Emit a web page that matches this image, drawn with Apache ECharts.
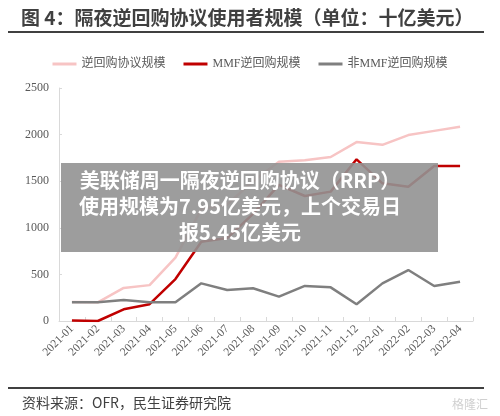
<!DOCTYPE html>
<html>
<head>
<meta charset="utf-8">
<script src="https://cdn.jsdelivr.net/npm/echarts@6/dist/echarts.min.js"></script>
<style>
  html, body { margin: 0; padding: 0; background: #fff; }
  #chart { width: 500px; height: 416px; }
</style>
</head>
<body>
<div id="chart"></div>
<script>
// 月份
const months = ['2021-01', '2021-02', '2021-03', '2021-04', '2021-05', '2021-06', '2021-07', '2021-08',
  '2021-09', '2021-10', '2021-11', '2021-12', '2022-01', '2022-02', '2022-03', '2022-04'];
// 十亿美元
const totalRrp = [205, 200, 355, 385, 680, 1200, 1250, 1500, 1710, 1725, 1760, 1920, 1890, 1995, 2040, 2085];
const mmfRrp = [5, 0, 125, 180, 450, 851, 890, 1150, 1460, 1341, 1388, 1735, 1477, 1441, 1663, 1663];
const nonMmfRrp = [200, 200, 225, 200, 200, 404, 333, 351, 261, 376, 361, 179, 404, 547, 376, 422];
const seriesNames = ['逆回购协议规模', 'MMF逆回购规模', '非MMF逆回购规模'];
const yTicks = [0, 500, 1000, 1500, 2000, 2500];

const bannerLines = ['美联储周一隔夜逆回购协议（RRP）', '使用规模为7.95亿美元，上个交易日', '报5.45亿美元'];

const serif = '"Liberation Serif", "Noto Sans CJK SC", serif';
const sans = '"Noto Sans CJK SC", "Noto Sans", sans-serif';

const myChart = echarts.init(document.getElementById('chart'));

const option = {
  animation: false,
  title: [{
    text: '图 4：隔夜逆回购协议使用者规模（单位：十亿美元）',
    left: 16,
    top: 3,
    textStyle: { color: '#404040', fontSize: 19, fontWeight: 'bold', fontFamily: sans }
  }, {
    text: '资料来源：OFR，民生证券研究院',
    left: 17,
    top: 391,
    textStyle: { color: '#404040', fontSize: 14, fontWeight: 'normal', fontFamily: sans }
  }],
  legend: {
    top: 53,
    left: 'center',
    itemWidth: 24,
    itemHeight: 3,
    itemGap: 18,
    icon: 'rect',
    data: seriesNames,
    textStyle: { color: '#595959', fontSize: 12, fontFamily: serif }
  },
  grid: { left: 59, right: 27, top: 88, bottom: 95 },
  xAxis: {
    type: 'category',
    data: months,
    boundaryGap: true,
    axisLine: { lineStyle: { color: '#d9d9d9', width: 1 } },
    axisTick: { show: true, inside: true, length: 4, lineStyle: { color: '#d9d9d9' } },
    axisLabel: { rotate: 45, interval: 0, margin: 6, color: '#595959', fontSize: 11.5, fontFamily: serif }
  },
  yAxis: {
    type: 'value',
    min: yTicks[0],
    max: yTicks[yTicks.length - 1],
    interval: 500,
    axisLine: { show: true, lineStyle: { color: '#d9d9d9', width: 1 } },
    axisTick: { show: true, inside: true, length: 3, lineStyle: { color: '#d9d9d9' } },
    splitLine: { show: false },
    axisLabel: { margin: 10, color: '#595959', fontSize: 12, fontFamily: serif, formatter: (v) => String(v) }
  },
  series: [
    { name: seriesNames[0], type: 'line', data: totalRrp, symbol: 'none', color: '#f7c4c4', lineStyle: { width: 2.5 }, z: 2 },
    { name: seriesNames[1], type: 'line', data: mmfRrp, symbol: 'none', color: '#c00000', lineStyle: { width: 2.5 }, z: 3 },
    { name: seriesNames[2], type: 'line', data: nonMmfRrp, symbol: 'none', color: '#7f7f7f', lineStyle: { width: 2.5 }, z: 4 }
  ],
  graphic: [
    { type: 'line', shape: { x1: 8, y1: 32, x2: 484, y2: 32 }, style: { stroke: '#404040', lineWidth: 2 } },
    { type: 'line', shape: { x1: 8, y1: 388, x2: 484, y2: 388 }, style: { stroke: '#404040', lineWidth: 2 } },
    { type: 'text', left: 452, top: 398, style: { text: '格隆汇', fill: '#d0d0d0', font: '12px ' + sans } },
    { type: 'rect', shape: { x: 61, y: 163, width: 377, height: 89 }, style: { fill: 'rgba(146,146,146,0.9)' }, z: 100 },
    {
      type: 'text', z: 101, x: 240, y: 167,
      style: {
        text: bannerLines.join('\n'),
        fill: '#fff',
        font: 'bold 20px ' + sans,
        lineHeight: 26,
        align: 'center'
      }
    }
  ]
};

myChart.setOption(option);
window.addEventListener('resize', () => { myChart.resize() });
</script>
</body>
</html>
